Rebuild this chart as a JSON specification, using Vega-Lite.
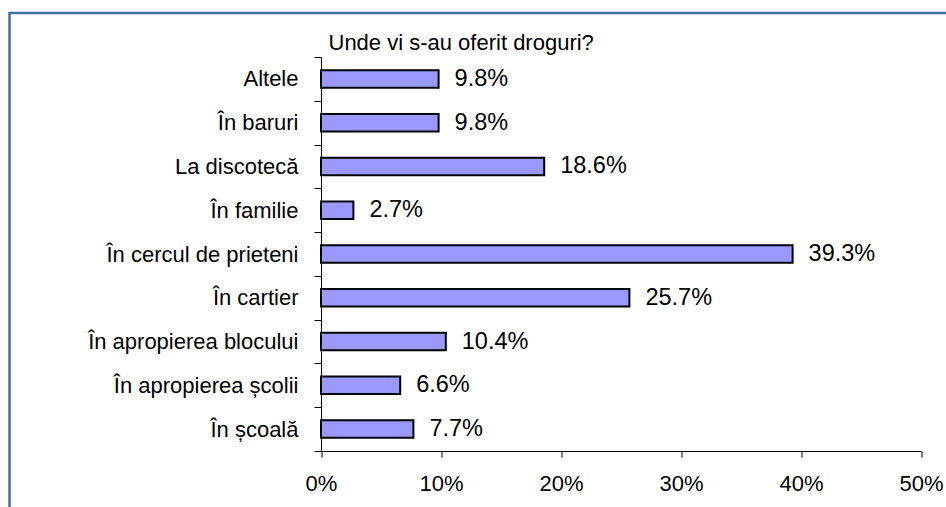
{
  "$schema": "https://vega.github.io/schema/vega-lite/v6.json",
  "width": 939.5,
  "height": 497,
  "autosize": {"type": "none"},
  "padding": {"left": 9.5, "top": 13, "right": -3.5, "bottom": -3},
  "background": "white",
  "config": {
    "view": {"stroke": "#3f6ea3", "strokeWidth": 2.5},
    "font": "Liberation Sans"
  },
  "data": {
    "values": [
      {"loc": "Altele", "share": 0.098},
      {"loc": "În baruri", "share": 0.098},
      {"loc": "La discotecă", "share": 0.186},
      {"loc": "În familie", "share": 0.027},
      {"loc": "În cercul de prieteni", "share": 0.393},
      {"loc": "În cartier", "share": 0.257},
      {"loc": "În apropierea blocului", "share": 0.104},
      {"loc": "În apropierea școlii", "share": 0.066},
      {"loc": "În școală", "share": 0.077}
    ]
  },
  "encoding": {
    "y": {
      "field": "loc",
      "type": "nominal",
      "sort": null,
      "scale": {"range": [44, 438], "paddingInner": 0, "paddingOuter": 0},
      "axis": {
        "title": "Unde vi s-au oferit droguri?",
        "titleAngle": 0,
        "titleAlign": "left",
        "titleBaseline": "alphabetic",
        "titleX": 7,
        "titleY": 36,
        "titleFont": "Liberation Sans",
        "titleFontSize": 22,
        "titleFontWeight": "normal",
        "titleColor": "black",
        "orient": "left",
        "offset": -311.5,
        "tickBand": "extent",
        "tickSize": 7,
        "labelPadding": 16,
        "labelFontSize": 22,
        "labelFont": "Liberation Sans",
        "labelColor": "black",
        "domainColor": "black",
        "tickColor": "black",
        "labelLimit": 400,
        "grid": false
      }
    },
    "x": {
      "field": "share",
      "type": "quantitative",
      "scale": {"domain": [0, 0.5], "range": [311.5, 911.5], "nice": false},
      "axis": {
        "title": null,
        "orient": "bottom",
        "offset": -59,
        "values": [0, 0.1, 0.2, 0.3, 0.4, 0.5],
        "format": ".0%",
        "tickSize": 6,
        "labelPadding": 16,
        "labelFlush": false,
        "labelFontSize": 22,
        "labelFont": "Liberation Sans",
        "labelColor": "black",
        "domainColor": "black",
        "tickColor": "black",
        "grid": false
      }
    }
  },
  "layer": [
    {
      "mark": {"type": "bar", "height": {"band": 0.4}, "fill": "#9999ff", "stroke": "black", "strokeWidth": 2}
    },
    {
      "mark": {"type": "text", "align": "left", "baseline": "middle", "dx": 16, "fontSize": 23.5, "font": "Liberation Sans", "color": "black"},
      "encoding": {"text": {"field": "share", "type": "quantitative", "format": ".1%"}}
    }
  ]
}
